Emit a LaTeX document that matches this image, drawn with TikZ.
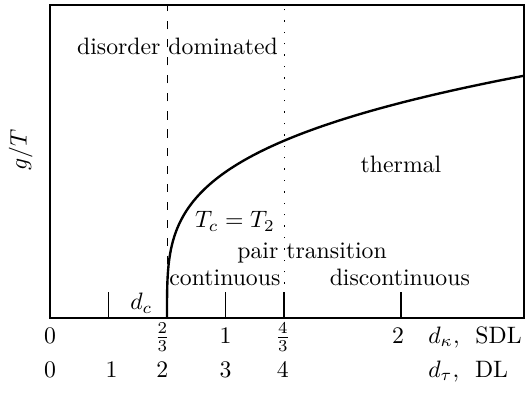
\documentclass[tikz,border=0pt]{standalone}
\usepackage{amssymb,amsmath}
\usepackage{tikz}
\usetikzlibrary{calc}
\tikzset{
    frame line/.style={line width=1pt},
    phase curve/.style={line width=1pt, line join=round},
    axistick/.style={semithick},
    lbl/.style={anchor=base, inner sep=0pt},
    crossover/.style={thin, dash pattern=on 3.4pt off 4.2pt},
    pairline/.style={thin, dash pattern=on 0.6pt off 4.2pt},
}

\begin{document}
\begin{tikzpicture}[x=0.866cm, y=0.866cm]
    \useasboundingbox (-0.855,-1.333) rectangle (8.137,5.436);
    \draw[frame line] (0,0) rectangle (8.1,5.35);
    \foreach \d in {1,3,4,6} \draw[axistick] (\d,0) -- (\d,0.44);
    \draw[crossover] (2,0) -- (2,5.35);
    \draw[pairline] (4,0) -- (4,5.35);
    % boundary T_c = T_2
    \draw[phase curve] (2,0) -- plot[variable=\t, domain=0.01:4.14, samples=90, smooth] ({2+(\t/2.495)^3.571}, \t);
    \node[rotate=90] (gT) at (-0.50,2.87) {$g/T$};
    \node[lbl] (dis) at (2.18,4.51) {disorder dominated};
    \node[lbl] (therm) at (6.0,2.48) {thermal};
    \node[lbl] (tc) at (3.16,1.54) {$T_c = T_2$};
    \node[lbl] (pair) at (4.48,1.01) {pair transition};
    \node[lbl] (cont) at (2.99,0.56) {continuous};
    \node[lbl] (discont) at (5.98,0.56) {discontinuous};
    \node[lbl] (dc) at (1.56,0.14) {$d_c$};
    % d_kappa, SDL
    \foreach \x/\t [count=\i] in {0/0, 1.92/\frac{2}{3}, 3/1, 3.98/\frac{4}{3}, 5.95/2}
        \node[lbl] (k\i) at (\x,-0.43) {$\t$};
    \node[lbl, anchor=base west] (sdl) at (6.46,-0.43) {$d_\kappa,$\ \ SDL};
    % d_tau, DL
    \foreach \x/\t [count=\i] in {0/0, 1.05/1, 1.92/2, 3/3, 3.98/4}
        \node[lbl] (t\i) at (\x,-1.01) {$\t$};
    \node[lbl, anchor=base west] (dl) at (6.46,-1.01) {$d_\tau,$\ \ DL};
\end{tikzpicture}
\end{document}
